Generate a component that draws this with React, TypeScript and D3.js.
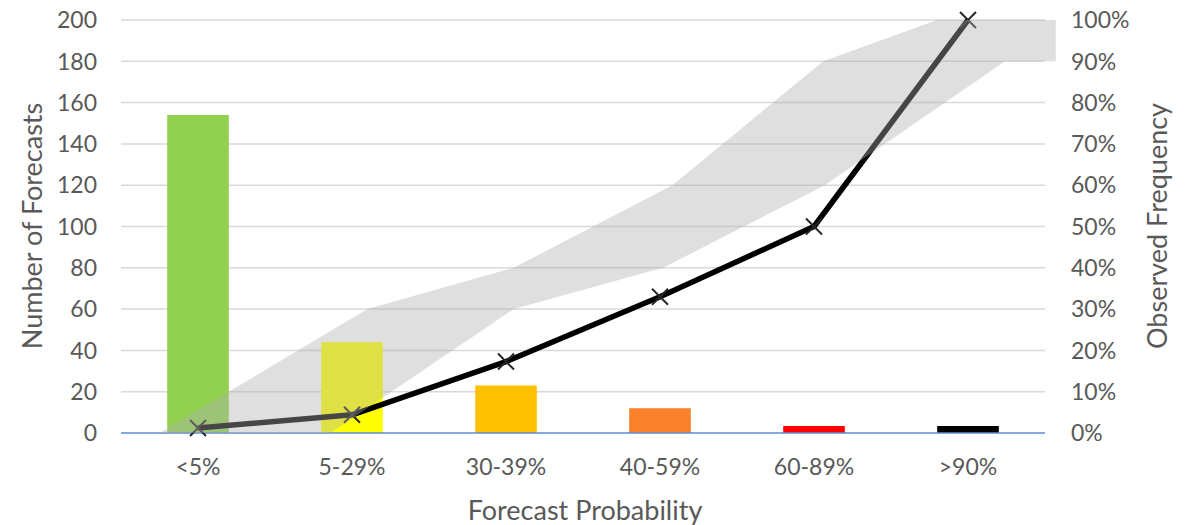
import React from 'react';
import * as d3 from 'd3';

// forecast bins
const categories = ['<5%', '5-29%', '30-39%', '40-59%', '60-89%', '>90%'];
const forecastCounts = [154, 44, 23, 12, 3.4, 3.4];
const barColors = ['#92d050', '#ffff00', '#ffc000', '#f9822a', '#ff0000', '#000000'];
const observedFreq = [0.012, 0.044, 0.173, 0.33, 0.5, 1.0];

// reliability band, x in category-index units
const bandUpperX = [-0.25, 1.1, 2.05, 3.08, 4.06, 4.8, 5.57];
const bandUpperY = [0, 0.3, 0.4, 0.6, 0.9, 1.0, 1.0];
const bandLowerX = [-0.25, 0.86, 2.05, 3.02, 4.07, 5.24, 5.57];
const bandLowerY = [0, 0, 0.3, 0.4, 0.6, 0.9, 0.9];

const leftTicks = d3.range(0, 201, 20);
const rightTicks = d3.range(0, 1.01, 0.1);

const W = 1196;
const H = 525;
const plotLeft = 121;
const plotRight = 1045;
const plotTop = 20;
const plotBottom = 433;

const FONT = 'Lato, "Open Sans", sans-serif';
const TEXT = '#595959';

export default function App() {
  const x = d3.scaleBand<string>()
    .domain(categories)
    .range([plotLeft, plotRight])
    .paddingInner(0.6)
    .paddingOuter(0.3);
  const xi = d3.scaleLinear()
    .domain([0, 5])
    .range([x(categories[0])! + x.bandwidth() / 2, x(categories[5])! + x.bandwidth() / 2]);
  const yL = d3.scaleLinear().domain([0, 200]).range([plotBottom, plotTop]);
  const yR = d3.scaleLinear().domain([0, 1]).range([plotBottom, plotTop]);

  const upper = bandUpperX.map((v, i) => [xi(v), yR(bandUpperY[i])] as [number, number]);
  const lower = bandLowerX.map((v, i) => [xi(v), yR(bandLowerY[i])] as [number, number]);
  const bandPath = d3.line()([...upper, ...lower.slice().reverse()]) + 'Z';

  const linePts = observedFreq.map((v, i) => [xi(i), yR(v)] as [number, number]);
  const linePath = d3.line()(linePts) || '';

  const fmtPct = d3.format('.0%');

  return (
    <svg width={W} height={H} style={{ position: 'absolute', left: 0, top: 0, background: '#fff' }}
      fontFamily={FONT}>
      {/* gridlines */}
      {leftTicks.slice(1).map(t => (
        <line key={t} x1={plotLeft} x2={plotRight} y1={yL(t)} y2={yL(t)} stroke="#d9d9d9" strokeWidth={1.5} />
      ))}

      {/* bars */}
      {categories.map((c, i) => (
        <rect key={c} x={x(c)} y={yL(forecastCounts[i])} width={x.bandwidth()}
          height={yL(0) - yL(forecastCounts[i])} fill={barColors[i]} />
      ))}

      {/* baseline */}
      <line x1={plotLeft} x2={plotRight} y1={plotBottom} y2={plotBottom} stroke="#5b8bd6" strokeWidth={1.5} />

      {/* observed frequency line */}
      <path d={linePath} fill="none" stroke="#000" strokeWidth={5.5} strokeLinejoin="round" />
      {linePts.map(([px, py], i) => (
        <g key={i} stroke="#262626" strokeWidth={2}>
          <line x1={px - 8} y1={py - 8} x2={px + 8} y2={py + 8} />
          <line x1={px - 8} y1={py + 8} x2={px + 8} y2={py - 8} />
        </g>
      ))}

      {/* reliability band */}
      <path d={bandPath} fill="#b0b0b0" fillOpacity={0.4} />

      {/* left axis labels */}
      {leftTicks.map(t => (
        <text key={t} x={97} y={yL(t)} dy="0.36em" textAnchor="end" fontSize={23} fill={TEXT}>{t}</text>
      ))}
      {/* right axis labels */}
      {rightTicks.map(t => (
        <text key={t} x={1071} y={yR(t)} dy="0.36em" textAnchor="start" fontSize={23} fill={TEXT}>{fmtPct(t)}</text>
      ))}
      {/* category labels */}
      {categories.map(c => (
        <text key={c} x={x(c)! + x.bandwidth() / 2} y={467} dy="0.36em" textAnchor="middle" fontSize={23} fill={TEXT}>{c}</text>
      ))}

      {/* axis titles */}
      <text x={585} y={510} dy="0.36em" textAnchor="middle" fontSize={27} fill={TEXT}>Forecast Probability</text>
      <text transform={`translate(32,${226}) rotate(-90)`} dy="0.36em" textAnchor="middle" fontSize={27} fill={TEXT}>Number of Forecasts</text>
      <text transform={`translate(1157,${226}) rotate(-90)`} dy="0.36em" textAnchor="middle" fontSize={27} fill={TEXT}>Observed Frequency</text>
    </svg>
  );
}
